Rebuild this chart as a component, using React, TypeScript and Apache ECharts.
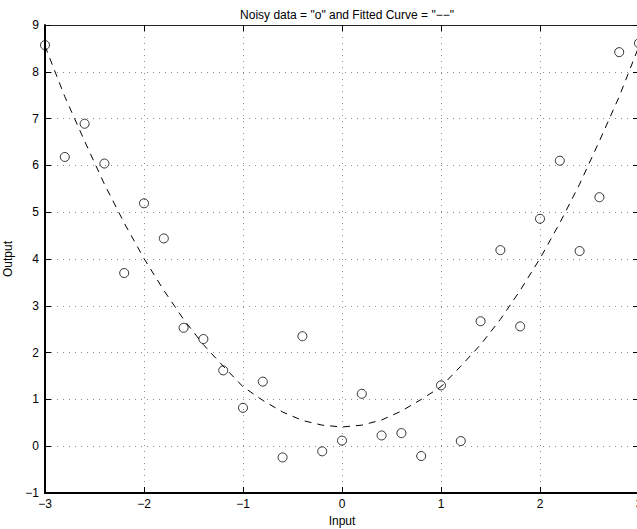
import React, { useEffect, useRef } from "react";
import * as echarts from "echarts";

const xValues = [-3, -2.8, -2.6, -2.4, -2.2, -2, -1.8, -1.6, -1.4, -1.2, -1, -0.8, -0.6, -0.4, -0.2, 0, 0.2, 0.4, 0.6, 0.8, 1, 1.2, 1.4, 1.6, 1.8, 2, 2.2, 2.4, 2.6, 2.8, 3];
const noisyY = [8.57, 6.18, 6.89, 6.04, 3.7, 5.19, 4.44, 2.53, 2.29, 1.62, 0.82, 1.38, -0.24, 2.35, -0.11, 0.12, 1.12, 0.23, 0.28, -0.21, 1.3, 0.11, 2.67, 4.19, 2.56, 4.86, 6.1, 4.17, 5.32, 8.42, 8.61];
const fittedY = [8.55, 7.47, 6.52, 5.6, 4.77, 4.01, 3.33, 2.71, 2.17, 1.71, 1.27, 0.98, 0.73, 0.55, 0.45, 0.41, 0.45, 0.56, 0.75, 1.0, 1.27, 1.71, 2.17, 2.71, 3.33, 4.01, 4.77, 5.6, 6.52, 7.47, 8.55];

const titleText = 'Noisy data = "o" and Fitted Curve = "\u2212\u2212"';
const xName = "Input";
const yName = "Output";

const FONT = "'Liberation Sans', Arial, Helvetica, sans-serif";
const minusFmt = (v: number) => String(v).replace("-", "\u2212");

export default function App() {
  const ref = useRef<HTMLDivElement>(null);
  useEffect(() => {
    if (!ref.current) return;
    const chart = echarts.init(ref.current, null, { renderer: "svg" });
    const gridLine = { show: true, lineStyle: { color: "#8c8c8c", width: 1, type: [1, 5] as any } };
    chart.setOption({
      animation: false,
      backgroundColor: "#ffffff",
      textStyle: { fontFamily: FONT },
      title: {
        text: titleText,
        left: 342,
        top: 4,
        textAlign: "center",
        textStyle: { fontSize: 12, fontWeight: "normal", color: "#000", fontFamily: FONT },
      },
      grid: { left: 45, top: 25, width: 594, height: 468, containLabel: false, outerBoundsMode: "none" } as any,
      xAxis: [
        {
          type: "value",
          min: -3,
          max: 3,
          interval: 1,
          position: "bottom",
          name: xName,
          nameLocation: "middle",
          nameGap: 20,
          nameTextStyle: { fontSize: 12, color: "#000", fontFamily: FONT },
          axisLine: { show: true, onZero: false, lineStyle: { color: "#000", width: 2 } },
          axisTick: { show: true, inside: true, length: 6, lineStyle: { color: "#000", width: 1 } },
          axisLabel: { fontSize: 12, color: "#000", margin: 5, formatter: minusFmt, fontFamily: FONT },
          splitLine: gridLine,
        },
        {
          type: "value",
          min: -3,
          max: 3,
          interval: 1,
          position: "top",
          axisLine: { show: true, onZero: false, lineStyle: { color: "#222", width: 1 } },
          axisTick: { show: true, inside: true, length: 6, lineStyle: { color: "#000", width: 1 } },
          axisLabel: { show: false },
          splitLine: { show: false },
        },
      ],
      yAxis: [
        {
          type: "value",
          min: -1,
          max: 9,
          interval: 1,
          position: "left",
          name: yName,
          nameLocation: "middle",
          nameGap: 24,
          nameTextStyle: { fontSize: 12, color: "#000", fontFamily: FONT },
          axisLine: { show: true, onZero: false, lineStyle: { color: "#000", width: 2 } },
          axisTick: { show: true, inside: true, length: 6, lineStyle: { color: "#000", width: 1 } },
          axisLabel: { fontSize: 12, color: "#000", margin: 6, formatter: minusFmt, fontFamily: FONT },
          splitLine: gridLine,
        },
        {
          type: "value",
          min: -1,
          max: 9,
          interval: 1,
          position: "right",
          axisLine: { show: true, onZero: false, lineStyle: { color: "#222", width: 1 } },
          axisTick: { show: true, inside: true, length: 6, lineStyle: { color: "#000", width: 1 } },
          axisLabel: { show: false },
          splitLine: { show: false },
        },
      ],
      series: [
        {
          name: "Fitted Curve",
          type: "line",
          data: xValues.map((x, i) => [x, fittedY[i]]),
          showSymbol: false,
          symbol: "none",
          clip: false,
          lineStyle: { color: "#000", width: 1, type: [7, 6] as any },
          z: 3,
        },
        {
          name: "Noisy data",
          type: "scatter",
          data: xValues.map((x, i) => [x, noisyY[i]]),
          symbol: "circle",
          symbolSize: 9,
          clip: false,
          itemStyle: { color: "rgba(0,0,0,0)", borderColor: "#000", borderWidth: 1 },
          z: 4,
        },
      ],
    });
    return () => chart.dispose();
  }, []);
  return <div ref={ref} style={{ position: "fixed", left: 0, top: 0, width: 637, height: 529 }} />;
}
